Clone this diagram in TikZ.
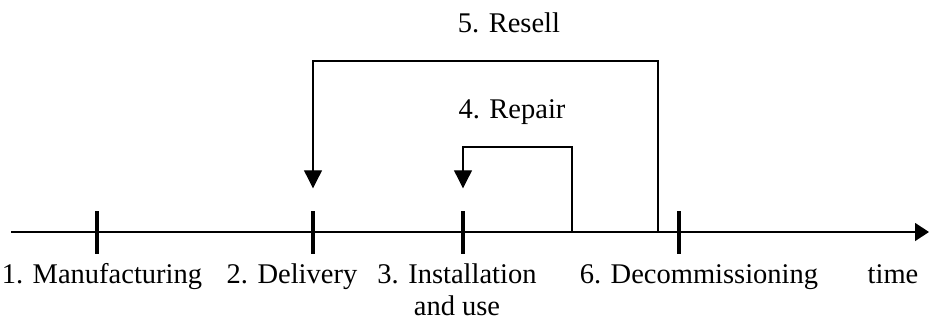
\documentclass[tikz,border=0pt]{standalone}
\usepackage{fontspec}
\setmainfont{Liberation Serif}
\usepackage{tikz}
\usetikzlibrary{positioning}
\usetikzlibrary{calc}
\usetikzlibrary{arrows.meta}

\tikzset{
  tickmark/.style={fill=black, inner sep=0pt, minimum width=4.5pt, minimum height=43pt},
  lbl/.style={font=\fontsize{28.5}{32}\selectfont, anchor=base, inner sep=0pt},
  backarrow/.style={line width=1.1pt, -{Triangle[length=18pt,width=18pt]}}
}

\begin{document}
\begin{tikzpicture}[x=1pt, y=-1pt]
\useasboundingbox (0,0) rectangle (929,324);

\def\Ax{232}   % height of the time axis
\def\Lb{283}   % baseline of the stage labels

% Axis
\coordinate (axstart) at (11,\Ax);
\coordinate (axend) at (929,\Ax);
\draw[line width=1.3pt, -{Triangle[length=14pt,width=18pt]}] (axstart) -- (axend);

% Stages
\node[tickmark] (t1) at (97,\Ax) {};
\node[tickmark] (t2) at (313,\Ax) {};
\node[tickmark] (t3) at (463,\Ax) {};
\node[tickmark] (t6) at (679,\Ax) {};

\node[lbl] (manu) at (102,\Lb) {1. Manufacturing};
\node[lbl] (deli) at (292,\Lb) {2. Delivery};
\node[lbl, align=center] (inst) at (457,315) {3. Installation\\and use}; % base = last line
\node[lbl] (deco) at (699,\Lb) {6. Decommissioning};
\node[lbl] (time) at (893,\Lb) {time};

% Resell loop
\coordinate (sellfoot) at (658,\Ax);
\coordinate (selltop) at (658,61);
\draw[backarrow] (sellfoot) -- (selltop) -| ([yshift=22pt]t2.north);
\node[lbl] (resell) at (509,32) {5. Resell};

% Repair loop
\coordinate (repfoot) at (572,\Ax);
\coordinate (reptop) at (572,147);
\draw[backarrow] (repfoot) -- (reptop) -| ([yshift=22pt]t3.north);
\node[lbl] (repair) at (512,118) {4. Repair};

\end{tikzpicture}
\end{document}
